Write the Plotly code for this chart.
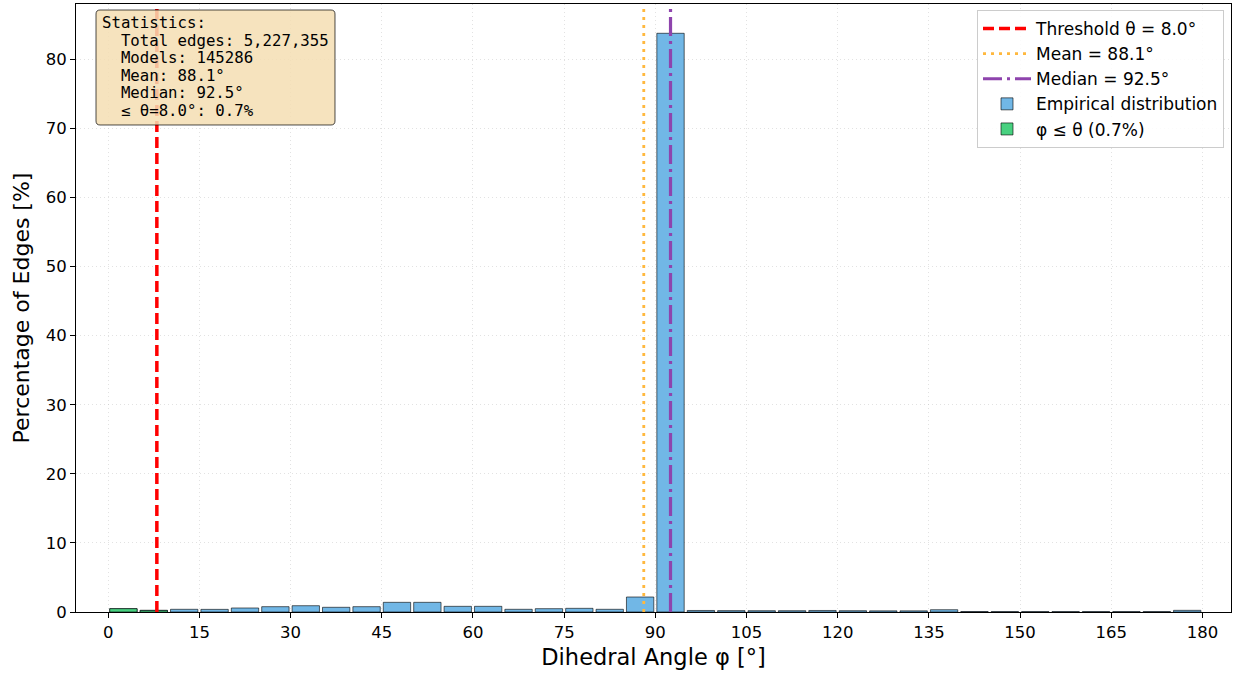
import plotly.graph_objects as go

# ---- data ----
bin_width = 5
bin_lefts = list(range(0, 180, 5))
empirical_pct = [0.48, 0.25, 0.39, 0.38, 0.58, 0.77, 0.91, 0.68, 0.77, 1.40,
                 1.40, 0.82, 0.82, 0.39, 0.48, 0.53, 0.39, 2.17, 83.76, 0.22,
                 0.20, 0.19, 0.19, 0.22, 0.19, 0.17, 0.17, 0.33, 0.07, 0.06,
                 0.06, 0.06, 0.06, 0.06, 0.06, 0.24]
below_bins = [0, 5]
below_pct = [0.48, 0.22]

threshold = 8.0
mean_val = 88.1
median_val = 92.5
below_share = 0.7
stats_lines = [
    "Statistics:",
    "  Total edges: 5,227,355",
    "  Models: 145286",
    "  Mean: 88.1°",
    "  Median: 92.5°",
    "  ≤ θ=8.0°: 0.7%",
]
x_ticks = list(range(0, 181, 15))
y_ticks = list(range(0, 81, 10))
y_max = 88.0

# ---- figure ----
W, H = 1235, 677
L, R, T, B = 76, 4, 4, 65
pw, ph = W - L - R, H - T - B

fig = go.Figure()

# vertical reference lines (legend first)
fig.add_trace(go.Scatter(x=[threshold, threshold], y=[0, y_max], mode="lines",
                         line=dict(color="#ff0000", width=3.5, dash="11px,5px"),
                         name=f"Threshold θ = {threshold:.1f}°"))
fig.add_trace(go.Scatter(x=[mean_val, mean_val], y=[0, y_max], mode="lines",
                         line=dict(color="#ffb83e", width=2.8, dash="3px,5px"),
                         name=f"Mean = {mean_val:.1f}°"))
fig.add_trace(go.Scatter(x=[median_val, median_val], y=[0, y_max], mode="lines",
                         line=dict(color="#8e44ad", width=3.2, dash="19px,5px,3px,5px"),
                         name=f"Median = {median_val:.1f}°"))

centers = [b + bin_width / 2 for b in bin_lefts]
fig.add_trace(go.Bar(x=centers, y=empirical_pct, width=bin_width * 0.9,
                     marker=dict(color="#71b7e6", line=dict(color="rgba(0,0,0,0.6)", width=1)),
                     name="Empirical distribution"))
fig.add_trace(go.Bar(x=[b + bin_width / 2 for b in below_bins], y=below_pct,
                     width=bin_width * 0.9,
                     marker=dict(color="#48d180", line=dict(color="rgba(0,0,0,0.6)", width=1)),
                     name=f"φ ≤ θ ({below_share:.1f}%)"))

# stats box
def px_x(p):
    return (p - L) / pw

def px_y(p):
    return (T + ph - p) / ph

bx0, bx1, by0, by1 = 96, 335, 10, 125
r = 4
def P(x, y):
    return f"{px_x(x):.5f},{px_y(y):.5f}"
path = (f"M {P(bx0 + r, by0)} L {P(bx1 - r, by0)} Q {P(bx1, by0)} {P(bx1, by0 + r)} "
        f"L {P(bx1, by1 - r)} Q {P(bx1, by1)} {P(bx1 - r, by1)} "
        f"L {P(bx0 + r, by1)} Q {P(bx0, by1)} {P(bx0, by1 - r)} "
        f"L {P(bx0, by0 + r)} Q {P(bx0, by0)} {P(bx0 + r, by0)} Z")
fig.add_shape(type="path", path=path, xref="paper", yref="paper",
              fillcolor="rgba(245,222,179,0.85)", line=dict(color="rgba(0,0,0,0.7)", width=1),
              layer="above")

line_y = [22.3, 40.0, 57.7, 75.2, 92.6, 110.3]
for txt, yy in zip(stats_lines, line_y):
    fig.add_annotation(x=px_x(100), y=px_y(yy), xref="paper", yref="paper",
                       xanchor="left", yanchor="middle", showarrow=False,
                       text=txt.replace(" ", "\u00a0"),
                       font=dict(family="DejaVu Sans Mono", size=15.7, color="black"))

axis_common = dict(showline=True, linecolor="black", linewidth=1, mirror=True,
                   ticks="outside", ticklen=5, tickcolor="black",
                   showgrid=True, gridcolor="rgba(190,190,190,0.45)", griddash="1px,3px",
                   gridwidth=1, zeroline=False, automargin=False,
                   tickfont=dict(family="DejaVu Sans", size=16.5, color="black"))

fig.update_layout(
    width=W, height=H,
    margin=dict(l=L, r=R, t=T, b=B),
    paper_bgcolor="white", plot_bgcolor="white",
    barmode="overlay",
    font=dict(family="DejaVu Sans", color="black"),
    xaxis=dict(range=[-5.3, 184.7], tickvals=x_ticks,
               title=dict(text="Dihedral Angle φ [°]", font=dict(size=22.5), standoff=8),
               **axis_common),
    yaxis=dict(range=[0, y_max], tickvals=y_ticks,
               title=dict(text="Percentage of Edges [%]", font=dict(size=22), standoff=10),
               **axis_common),
    legend=dict(x=px_x(1224), y=px_y(10), xanchor="right", yanchor="top",
                bgcolor="rgba(255,255,255,0.85)", bordercolor="#cccccc", borderwidth=1,
                font=dict(family="DejaVu Sans", size=17, color="black"),
                traceorder="normal", itemwidth=48, tracegroupgap=0),
    showlegend=True,
)

fig.write_html("out.html", config={"displayModeBar": False},
               post_script="document.body.style.margin='0px';")
